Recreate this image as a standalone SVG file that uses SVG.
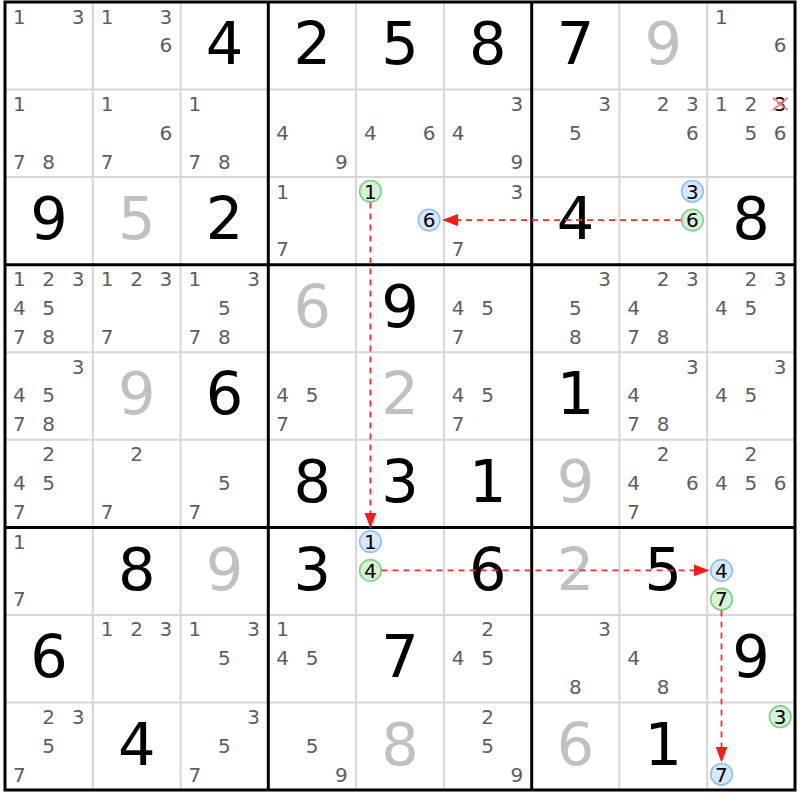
<svg xmlns="http://www.w3.org/2000/svg" width="800" height="800" viewBox="0 0 800 800">
<style>
text{font-family:"DejaVu Sans","Verdana",sans-serif;text-anchor:middle}
.c{font-size:20px;fill:#5e5e5e}
.h{font-size:20px;fill:#000}
.g{font-size:59px;fill:#000}
.s{font-size:59px;fill:#c0c0c0}
.thin{stroke:#d6d6d6;stroke-width:2}
.thick{stroke:#000;stroke-width:3}
.gc{fill:#d6f2d6;stroke:#80d080;stroke-width:1.6}
.bc{fill:#d6e8fa;stroke:#8cc2f2;stroke-width:1.6}
.lk{stroke:#ff2a2a;stroke-width:1.8;stroke-dasharray:6 5;fill:none}
.x{stroke:#f47c7c;stroke-width:2.2;opacity:0.85}
</style>
<defs>
<marker id="ah" markerUnits="userSpaceOnUse" markerWidth="16" markerHeight="12" refX="16" refY="6" orient="auto">
<path d="M0,0 L16,6 L0,12 z" fill="#ff1a1a"/>
</marker>
</defs>
<rect x="0" y="0" width="800" height="800" fill="#fff"/>
<g id="grid">
<g class="thin">
<line x1="92.8" y1="2" x2="92.8" y2="790"/><line x1="180.6" y1="2" x2="180.6" y2="790"/>
<line x1="356.1" y1="2" x2="356.1" y2="790"/><line x1="443.9" y1="2" x2="443.9" y2="790"/>
<line x1="619.4" y1="2" x2="619.4" y2="790"/><line x1="707.2" y1="2" x2="707.2" y2="790"/>
<line x1="5" y1="89.6" x2="795" y2="89.6"/><line x1="5" y1="177.1" x2="795" y2="177.1"/>
<line x1="5" y1="352.2" x2="795" y2="352.2"/><line x1="5" y1="439.8" x2="795" y2="439.8"/>
<line x1="5" y1="614.9" x2="795" y2="614.9"/><line x1="5" y1="702.5" x2="795" y2="702.5"/>
</g>
<g class="thick">
<line x1="268.3" y1="2" x2="268.3" y2="790"/><line x1="531.7" y1="2" x2="531.7" y2="790"/>
<line x1="5" y1="264.7" x2="795" y2="264.7"/><line x1="5" y1="527.4" x2="795" y2="527.4"/>
<rect x="5" y="2" width="790" height="788" fill="none"/>
</g>
</g>

<!-- Row 0 -->
<g id="r0c0" transform="translate(5,2)"><text class="c" x="14.3" y="21.5">1</text><text class="c" x="73" y="21.5">3</text></g>
<g id="r0c1" transform="translate(92.8,2)"><text class="c" x="14.3" y="21.5">1</text><text class="c" x="73" y="21.5">3</text><text class="c" x="73" y="50.3">6</text></g>
<g id="r0c2" transform="translate(180.6,2)"><text class="g" x="43.9" y="62.3">4</text></g>
<g id="r0c3" transform="translate(268.3,2)"><text class="g" x="43.9" y="62.3">2</text></g>
<g id="r0c4" transform="translate(356.1,2)"><text class="g" x="43.9" y="62.3">5</text></g>
<g id="r0c5" transform="translate(443.9,2)"><text class="g" x="43.9" y="62.3">8</text></g>
<g id="r0c6" transform="translate(531.7,2)"><text class="g" x="43.9" y="62.3">7</text></g>
<g id="r0c7" transform="translate(619.4,2)"><text class="s" x="43.9" y="62.3">9</text></g>
<g id="r0c8" transform="translate(707.2,2)"><text class="c" x="14.3" y="21.5">1</text><text class="c" x="73" y="50.3">6</text></g>

<!-- Row 1 -->
<g id="r1c0" transform="translate(5,89.6)"><text class="c" x="14.3" y="21.5">1</text><text class="c" x="14.3" y="79.1">7</text><text class="c" x="43.7" y="79.1">8</text></g>
<g id="r1c1" transform="translate(92.8,89.6)"><text class="c" x="14.3" y="21.5">1</text><text class="c" x="73" y="50.3">6</text><text class="c" x="14.3" y="79.1">7</text></g>
<g id="r1c2" transform="translate(180.6,89.6)"><text class="c" x="14.3" y="21.5">1</text><text class="c" x="14.3" y="79.1">7</text><text class="c" x="43.7" y="79.1">8</text></g>
<g id="r1c3" transform="translate(268.3,89.6)"><text class="c" x="14.3" y="50.3">4</text><text class="c" x="73" y="79.1">9</text></g>
<g id="r1c4" transform="translate(356.1,89.6)"><text class="c" x="14.3" y="50.3">4</text><text class="c" x="73" y="50.3">6</text></g>
<g id="r1c5" transform="translate(443.9,89.6)"><text class="c" x="73" y="21.5">3</text><text class="c" x="14.3" y="50.3">4</text><text class="c" x="73" y="79.1">9</text></g>
<g id="r1c6" transform="translate(531.7,89.6)"><text class="c" x="73" y="21.5">3</text><text class="c" x="43.7" y="50.3">5</text></g>
<g id="r1c7" transform="translate(619.4,89.6)"><text class="c" x="43.7" y="21.5">2</text><text class="c" x="73" y="21.5">3</text><text class="c" x="73" y="50.3">6</text></g>
<g id="r1c8" transform="translate(707.2,89.6)"><text class="c" x="14.3" y="21.5">1</text><text class="c" x="43.7" y="21.5">2</text><text class="h" x="73" y="21.5">3</text><line class="x" x1="65.5" y1="8" x2="80.5" y2="20.5"/><line class="x" x1="65.5" y1="20.5" x2="80.5" y2="8"/><text class="c" x="43.7" y="50.3">5</text><text class="c" x="73" y="50.3">6</text></g>

<!-- Row 2 -->
<g id="r2c0" transform="translate(5,177.1)"><text class="g" x="43.9" y="62.3">9</text></g>
<g id="r2c1" transform="translate(92.8,177.1)"><text class="s" x="43.9" y="62.3">5</text></g>
<g id="r2c2" transform="translate(180.6,177.1)"><text class="g" x="43.9" y="62.3">2</text></g>
<g id="r2c3" transform="translate(268.3,177.1)"><text class="c" x="14.3" y="21.5">1</text><text class="c" x="14.3" y="79.1">7</text></g>
<g id="r2c4" transform="translate(356.1,177.1)"><circle class="gc" cx="14.3" cy="14.2" r="10.8"/><text class="h" x="14.3" y="21.5">1</text><circle class="bc" cx="73" cy="43" r="10.8"/><text class="h" x="73" y="50.3">6</text></g>
<g id="r2c5" transform="translate(443.9,177.1)"><text class="c" x="73" y="21.5">3</text><text class="c" x="14.3" y="79.1">7</text></g>
<g id="r2c6" transform="translate(531.7,177.1)"><text class="g" x="43.9" y="62.3">4</text></g>
<g id="r2c7" transform="translate(619.4,177.1)"><circle class="bc" cx="73" cy="14.2" r="10.8"/><text class="h" x="73" y="21.5">3</text><circle class="gc" cx="73" cy="43" r="10.8"/><text class="h" x="73" y="50.3">6</text></g>
<g id="r2c8" transform="translate(707.2,177.1)"><text class="g" x="43.9" y="62.3">8</text></g>

<!-- Row 3 -->
<g id="r3c0" transform="translate(5,264.7)"><text class="c" x="14.3" y="21.5">1</text><text class="c" x="43.7" y="21.5">2</text><text class="c" x="73" y="21.5">3</text><text class="c" x="14.3" y="50.3">4</text><text class="c" x="43.7" y="50.3">5</text><text class="c" x="14.3" y="79.1">7</text><text class="c" x="43.7" y="79.1">8</text></g>
<g id="r3c1" transform="translate(92.8,264.7)"><text class="c" x="14.3" y="21.5">1</text><text class="c" x="43.7" y="21.5">2</text><text class="c" x="73" y="21.5">3</text><text class="c" x="14.3" y="79.1">7</text></g>
<g id="r3c2" transform="translate(180.6,264.7)"><text class="c" x="14.3" y="21.5">1</text><text class="c" x="73" y="21.5">3</text><text class="c" x="43.7" y="50.3">5</text><text class="c" x="14.3" y="79.1">7</text><text class="c" x="43.7" y="79.1">8</text></g>
<g id="r3c3" transform="translate(268.3,264.7)"><text class="s" x="43.9" y="62.3">6</text></g>
<g id="r3c4" transform="translate(356.1,264.7)"><text class="g" x="43.9" y="62.3">9</text></g>
<g id="r3c5" transform="translate(443.9,264.7)"><text class="c" x="14.3" y="50.3">4</text><text class="c" x="43.7" y="50.3">5</text><text class="c" x="14.3" y="79.1">7</text></g>
<g id="r3c6" transform="translate(531.7,264.7)"><text class="c" x="73" y="21.5">3</text><text class="c" x="43.7" y="50.3">5</text><text class="c" x="43.7" y="79.1">8</text></g>
<g id="r3c7" transform="translate(619.4,264.7)"><text class="c" x="43.7" y="21.5">2</text><text class="c" x="73" y="21.5">3</text><text class="c" x="14.3" y="50.3">4</text><text class="c" x="14.3" y="79.1">7</text><text class="c" x="43.7" y="79.1">8</text></g>
<g id="r3c8" transform="translate(707.2,264.7)"><text class="c" x="43.7" y="21.5">2</text><text class="c" x="73" y="21.5">3</text><text class="c" x="14.3" y="50.3">4</text><text class="c" x="43.7" y="50.3">5</text></g>

<!-- Row 4 -->
<g id="r4c0" transform="translate(5,352.2)"><text class="c" x="73" y="21.5">3</text><text class="c" x="14.3" y="50.3">4</text><text class="c" x="43.7" y="50.3">5</text><text class="c" x="14.3" y="79.1">7</text><text class="c" x="43.7" y="79.1">8</text></g>
<g id="r4c1" transform="translate(92.8,352.2)"><text class="s" x="43.9" y="62.3">9</text></g>
<g id="r4c2" transform="translate(180.6,352.2)"><text class="g" x="43.9" y="62.3">6</text></g>
<g id="r4c3" transform="translate(268.3,352.2)"><text class="c" x="14.3" y="50.3">4</text><text class="c" x="43.7" y="50.3">5</text><text class="c" x="14.3" y="79.1">7</text></g>
<g id="r4c4" transform="translate(356.1,352.2)"><text class="s" x="43.9" y="62.3">2</text></g>
<g id="r4c5" transform="translate(443.9,352.2)"><text class="c" x="14.3" y="50.3">4</text><text class="c" x="43.7" y="50.3">5</text><text class="c" x="14.3" y="79.1">7</text></g>
<g id="r4c6" transform="translate(531.7,352.2)"><text class="g" x="43.9" y="62.3">1</text></g>
<g id="r4c7" transform="translate(619.4,352.2)"><text class="c" x="73" y="21.5">3</text><text class="c" x="14.3" y="50.3">4</text><text class="c" x="14.3" y="79.1">7</text><text class="c" x="43.7" y="79.1">8</text></g>
<g id="r4c8" transform="translate(707.2,352.2)"><text class="c" x="73" y="21.5">3</text><text class="c" x="14.3" y="50.3">4</text><text class="c" x="43.7" y="50.3">5</text></g>

<!-- Row 5 -->
<g id="r5c0" transform="translate(5,439.8)"><text class="c" x="43.7" y="21.5">2</text><text class="c" x="14.3" y="50.3">4</text><text class="c" x="43.7" y="50.3">5</text><text class="c" x="14.3" y="79.1">7</text></g>
<g id="r5c1" transform="translate(92.8,439.8)"><text class="c" x="43.7" y="21.5">2</text><text class="c" x="14.3" y="79.1">7</text></g>
<g id="r5c2" transform="translate(180.6,439.8)"><text class="c" x="43.7" y="50.3">5</text><text class="c" x="14.3" y="79.1">7</text></g>
<g id="r5c3" transform="translate(268.3,439.8)"><text class="g" x="43.9" y="62.3">8</text></g>
<g id="r5c4" transform="translate(356.1,439.8)"><text class="g" x="43.9" y="62.3">3</text></g>
<g id="r5c5" transform="translate(443.9,439.8)"><text class="g" x="43.9" y="62.3">1</text></g>
<g id="r5c6" transform="translate(531.7,439.8)"><text class="s" x="43.9" y="62.3">9</text></g>
<g id="r5c7" transform="translate(619.4,439.8)"><text class="c" x="43.7" y="21.5">2</text><text class="c" x="14.3" y="50.3">4</text><text class="c" x="73" y="50.3">6</text><text class="c" x="14.3" y="79.1">7</text></g>
<g id="r5c8" transform="translate(707.2,439.8)"><text class="c" x="43.7" y="21.5">2</text><text class="c" x="14.3" y="50.3">4</text><text class="c" x="43.7" y="50.3">5</text><text class="c" x="73" y="50.3">6</text></g>

<!-- Row 6 -->
<g id="r6c0" transform="translate(5,527.4)"><text class="c" x="14.3" y="21.5">1</text><text class="c" x="14.3" y="79.1">7</text></g>
<g id="r6c1" transform="translate(92.8,527.4)"><text class="g" x="43.9" y="62.3">8</text></g>
<g id="r6c2" transform="translate(180.6,527.4)"><text class="s" x="43.9" y="62.3">9</text></g>
<g id="r6c3" transform="translate(268.3,527.4)"><text class="g" x="43.9" y="62.3">3</text></g>
<g id="r6c4" transform="translate(356.1,527.4)"><circle class="bc" cx="14.3" cy="14.2" r="10.8"/><text class="h" x="14.3" y="21.5">1</text><circle class="gc" cx="14.3" cy="43" r="10.8"/><text class="h" x="14.3" y="50.3">4</text></g>
<g id="r6c5" transform="translate(443.9,527.4)"><text class="g" x="43.9" y="62.3">6</text></g>
<g id="r6c6" transform="translate(531.7,527.4)"><text class="s" x="43.9" y="62.3">2</text></g>
<g id="r6c7" transform="translate(619.4,527.4)"><text class="g" x="43.9" y="62.3">5</text></g>
<g id="r6c8" transform="translate(707.2,527.4)"><circle class="bc" cx="14.3" cy="43" r="10.8"/><text class="h" x="14.3" y="50.3">4</text><circle class="gc" cx="14.3" cy="71.8" r="10.8"/><text class="h" x="14.3" y="79.1">7</text></g>

<!-- Row 7 -->
<g id="r7c0" transform="translate(5,614.9)"><text class="g" x="43.9" y="62.3">6</text></g>
<g id="r7c1" transform="translate(92.8,614.9)"><text class="c" x="14.3" y="21.5">1</text><text class="c" x="43.7" y="21.5">2</text><text class="c" x="73" y="21.5">3</text></g>
<g id="r7c2" transform="translate(180.6,614.9)"><text class="c" x="14.3" y="21.5">1</text><text class="c" x="73" y="21.5">3</text><text class="c" x="43.7" y="50.3">5</text></g>
<g id="r7c3" transform="translate(268.3,614.9)"><text class="c" x="14.3" y="21.5">1</text><text class="c" x="14.3" y="50.3">4</text><text class="c" x="43.7" y="50.3">5</text></g>
<g id="r7c4" transform="translate(356.1,614.9)"><text class="g" x="43.9" y="62.3">7</text></g>
<g id="r7c5" transform="translate(443.9,614.9)"><text class="c" x="43.7" y="21.5">2</text><text class="c" x="14.3" y="50.3">4</text><text class="c" x="43.7" y="50.3">5</text></g>
<g id="r7c6" transform="translate(531.7,614.9)"><text class="c" x="73" y="21.5">3</text><text class="c" x="43.7" y="79.1">8</text></g>
<g id="r7c7" transform="translate(619.4,614.9)"><text class="c" x="14.3" y="50.3">4</text><text class="c" x="43.7" y="79.1">8</text></g>
<g id="r7c8" transform="translate(707.2,614.9)"><text class="g" x="43.9" y="62.3">9</text></g>

<!-- Row 8 -->
<g id="r8c0" transform="translate(5,702.5)"><text class="c" x="43.7" y="21.5">2</text><text class="c" x="73" y="21.5">3</text><text class="c" x="43.7" y="50.3">5</text><text class="c" x="14.3" y="79.1">7</text></g>
<g id="r8c1" transform="translate(92.8,702.5)"><text class="g" x="43.9" y="62.3">4</text></g>
<g id="r8c2" transform="translate(180.6,702.5)"><text class="c" x="73" y="21.5">3</text><text class="c" x="43.7" y="50.3">5</text><text class="c" x="14.3" y="79.1">7</text></g>
<g id="r8c3" transform="translate(268.3,702.5)"><text class="c" x="43.7" y="50.3">5</text><text class="c" x="73" y="79.1">9</text></g>
<g id="r8c4" transform="translate(356.1,702.5)"><text class="s" x="43.9" y="62.3">8</text></g>
<g id="r8c5" transform="translate(443.9,702.5)"><text class="c" x="43.7" y="21.5">2</text><text class="c" x="43.7" y="50.3">5</text><text class="c" x="73" y="79.1">9</text></g>
<g id="r8c6" transform="translate(531.7,702.5)"><text class="s" x="43.9" y="62.3">6</text></g>
<g id="r8c7" transform="translate(619.4,702.5)"><text class="g" x="43.9" y="62.3">1</text></g>
<g id="r8c8" transform="translate(707.2,702.5)"><circle class="gc" cx="73" cy="14.2" r="10.8"/><text class="h" x="73" y="21.5">3</text><circle class="bc" cx="14.3" cy="71.8" r="10.8"/><text class="h" x="14.3" y="79.1">7</text></g>

<g id="links">
<line class="lk" x1="681" y1="220.1" x2="442" y2="220.1" marker-end="url(#ah)"/>
<line class="lk" x1="370.4" y1="202.5" x2="370.4" y2="528.5" marker-end="url(#ah)"/>
<line class="lk" x1="381.5" y1="570.4" x2="709.5" y2="570.4" marker-end="url(#ah)"/>
<line class="lk" x1="721.5" y1="610.5" x2="721.5" y2="762.5" marker-end="url(#ah)"/>
</g>
</svg>
